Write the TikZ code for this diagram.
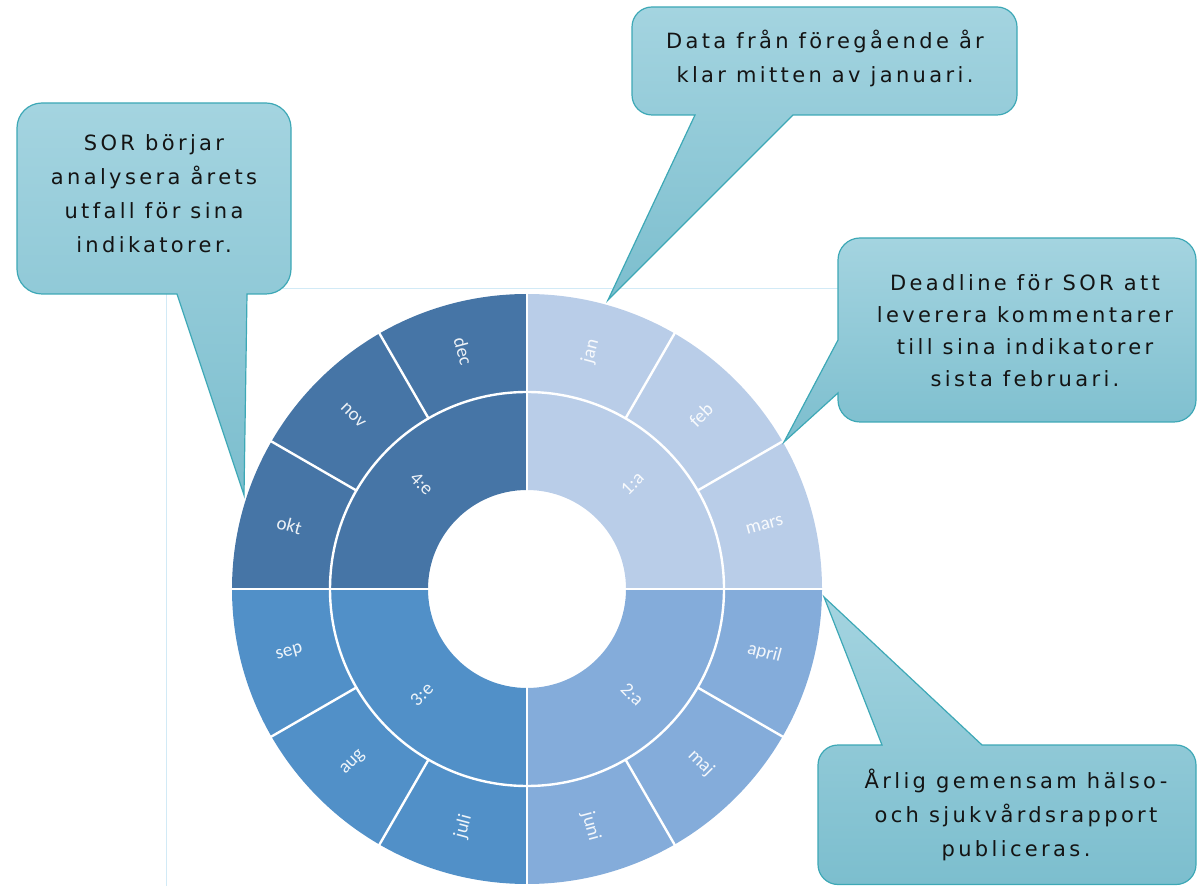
\documentclass[tikz,border=0pt]{standalone}
\usepackage{fontspec}
\newfontfamily\callfont{DejaVu Sans}[LetterSpace=16]
\newfontfamily\chartfont{Carlito}
\definecolor{qa}{HTML}{B9CDE8}
\definecolor{qb}{HTML}{84ACDA}
\definecolor{qc}{HTML}{5190C8}
\definecolor{qd}{HTML}{4675A6}
\definecolor{calltop}{HTML}{A4D4E0}
\definecolor{callbot}{HTML}{7CBECE}
\definecolor{callline}{HTML}{3DA8B6}
\definecolor{frameline}{HTML}{D2EAF6}
\begin{document}
\begin{tikzpicture}[x=1pt,y=1pt,
  callout/.style={top color=calltop,bottom color=callbot,draw=callline,line width=1.2pt},
  calltext/.style={align=center,text=black!92,font=\callfont\fontsize{21}{34}\selectfont,inner sep=0pt},
  mlabel/.style={text=white,text opacity=0.9,font=\chartfont\fontsize{19}{22}\selectfont,inner sep=0pt},
  sepline/.style={white,line width=2.4pt}]
\useasboundingbox (0,0) rectangle (1198,886);
% chart frame
\coordinate (f1) at (166,0);
\coordinate (f2) at (166,597);
\coordinate (f3) at (900,597);
\draw[frameline,line width=1pt] (f1) -- (f2) -- (f3);
% sunburst
\begin{scope}[shift={(527,297)}]
  \fill[qa] (90:99) arc[start angle=90,end angle=0,radius=99] -- (0:295) arc[start angle=0,end angle=90,radius=295] -- cycle;
  \fill[qb] (0:99) arc[start angle=0,end angle=-90,radius=99] -- (-90:295) arc[start angle=-90,end angle=0,radius=295] -- cycle;
  \fill[qc] (180:99) arc[start angle=180,end angle=270,radius=99] -- (270:295) arc[start angle=270,end angle=180,radius=295] -- cycle;
  \fill[qd] (90:99) arc[start angle=90,end angle=180,radius=99] -- (180:295) arc[start angle=180,end angle=90,radius=295] -- cycle;
  \draw[sepline] (0,0) circle[radius=197];
  \foreach \a in {0,90,180,270} \draw[sepline] (\a:98) -- (\a:296);
  \foreach \a in {30,60,120,150,210,240,300,330} \draw[sepline] (\a:197) -- (\a:296);
  \node[mlabel,rotate=75]  (jan)   at (75:246)   {jan};
  \node[mlabel,rotate=45]  (feb)   at (45:246)   {feb};
  \node[mlabel,rotate=15]  (mars)  at (15:246)   {mars};
  \node[mlabel,rotate=-15] (april) at (-15:246)  {april};
  \node[mlabel,rotate=-45] (maj)   at (-45:246)  {maj};
  \node[mlabel,rotate=-75] (juni)  at (-75:246)  {juni};
  \node[mlabel,rotate=75]  (juli)  at (-105:246) {juli};
  \node[mlabel,rotate=45]  (aug)   at (-135:246) {aug};
  \node[mlabel,rotate=15]  (sep)   at (-165:246) {sep};
  \node[mlabel,rotate=-15] (okt)   at (165:246)  {okt};
  \node[mlabel,rotate=-45] (nov)   at (135:246)  {nov};
  \node[mlabel,rotate=-75] (dec)   at (105:246)  {dec};
  \node[mlabel,rotate=45]  (q1) at (45:149)   {1:a};
  \node[mlabel,rotate=-45] (q2) at (-45:149)  {2:a};
  \node[mlabel,rotate=45]  (q3) at (-135:149) {3:e};
  \node[mlabel,rotate=-45] (q4) at (135:149)  {4:e};
\end{scope}
% callout 1 (top)
\shadedraw[callout] (652,771) -- (695,771) -- (608,586) -- (793,771) -- (997,771)
  arc[start angle=-90,end angle=0,radius=20] -- (1017,859)
  arc[start angle=0,end angle=90,radius=20] -- (652,879)
  arc[start angle=90,end angle=180,radius=20] -- (632,791)
  arc[start angle=180,end angle=270,radius=20] -- cycle;
\node[calltext] (t1) at (825,828) {Data från föregående år\\klar mitten av januari.};
% callout 2 (left)
\shadedraw[callout] (42,592) -- (177,592) -- (244,391) -- (247,592) -- (266,592)
  arc[start angle=-90,end angle=0,radius=25] -- (291,758)
  arc[start angle=0,end angle=90,radius=25] -- (42,783)
  arc[start angle=90,end angle=180,radius=25] -- (17,617)
  arc[start angle=180,end angle=270,radius=25] -- cycle;
\node[calltext] (t2) at (154,692) {SOR börjar\\analysera årets\\utfall för sina\\indikatorer.};
% callout 3 (right)
\shadedraw[callout] (860,464) -- (1174,464)
  arc[start angle=-90,end angle=0,radius=22] -- (1196,626)
  arc[start angle=0,end angle=90,radius=22] -- (860,648)
  arc[start angle=90,end angle=180,radius=22] -- (838,546) -- (784,444) -- (838,493) -- (838,486)
  arc[start angle=180,end angle=270,radius=22] -- cycle;
\node[calltext,font=\callfont\fontsize{21}{32}\selectfont] (t3) at (1025,555) {Deadline för SOR att\\leverera kommentarer\\till sina indikatorer\\sista februari.};
% callout 4 (bottom right)
\shadedraw[callout] (838,1.5) -- (1176,1.5)
  arc[start angle=-90,end angle=0,radius=20] -- (1196,121)
  arc[start angle=0,end angle=90,radius=20] -- (982,141) -- (824,289) -- (882,141) -- (838,141)
  arc[start angle=90,end angle=180,radius=20] -- (818,21.5)
  arc[start angle=180,end angle=270,radius=20] -- cycle;
\node[calltext] (t4) at (1016,71) {Årlig gemensam hälso-\\och sjukvårdsrapport\\publiceras.};
\end{tikzpicture}
\end{document}
